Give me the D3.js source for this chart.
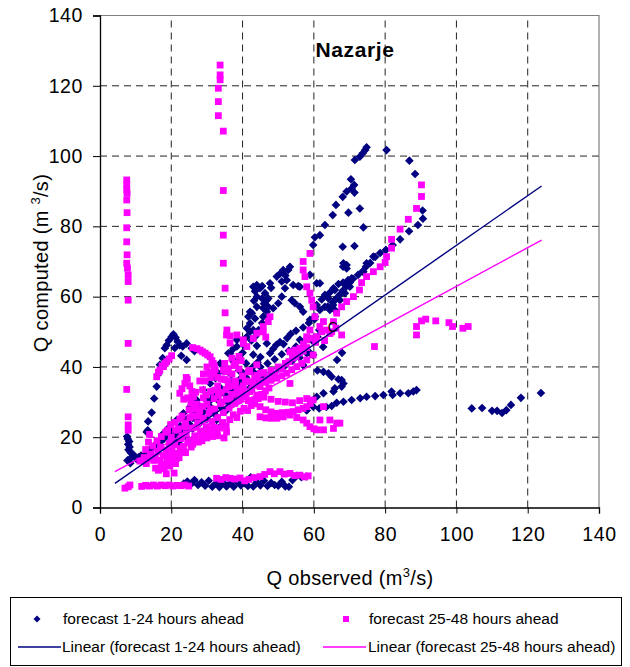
<!DOCTYPE html>
<html>
<head>
<meta charset="utf-8">
<script src="https://cdn.jsdelivr.net/npm/d3@7"></script>
<style>
  body { margin: 0; background: white; }
  text { font-family: "Liberation Sans", Arial, sans-serif; }
</style>
</head>
<body>
<div id="graph"></div>
<script>
// Nazarje - observed vs computed discharge
const xTicks = [0, 20, 40, 60, 80, 100, 120, 140];
const yTicks = [0, 20, 40, 60, 80, 100, 120, 140];
const seriesNames = ["forecast 1-24 hours ahead", "forecast 25-48 hours ahead"];

// [observed, computed]
const ahead1to24 = [
  // x=8 cluster
  [7.6,20.2],[7.8,19.5],[8.2,18.8],[7.9,18],[8.3,17.2],[8,16.4],[8.6,15.6],[9.2,15.2],[8.8,14.2],[9.6,14.6],
  [10.2,13.8],[10.8,14.3],[7.7,13.4],[8.5,12.6],[11.5,14.8],[12.6,13.5],[13.1,21.5],[13.4,22],
  // low band
  [23.5,6.8],[24.5,7.4],[25.5,6.6],[26.5,7.8],[27.5,6.4],[28.5,7.2],[29.5,6.2],[30.5,7.6],[31.5,5.9],[32.5,6.8],
  [33.5,5.8],[34.5,7.1],[35.5,6.0],[36.5,6.9],[37.5,5.9],[38.5,7.3],[39.5,6.3],[40.5,6.9],[41.5,6.1],[42.3,8.6],
  [43,6.0],[44,7.2],[45,6.3],[46,7.6],[47,6.1],[48,7.0],[49,6.4],[50,6.2],[51,7.3],[52,6.0],[53,5.9],[54,7.8],
  [55.2,9.0],[56.5,8.6],[58,8.8],
  // steep strand to the first peak
  [13.5,24.5],[14.5,27],[15.2,31],[15.9,34.4],[16.4,38],[16.8,40.6],[17.6,42.5],[18.2,45.3],[18.7,46.2],[19.3,47.5],
  [20.1,48.6],[20.6,49.3],[21.2,48.4],[21.8,47.2],[22.4,46.2],[23.2,45.8],[24.3,46.7],[25.7,45.3],[26.5,44.5],
  [24.3,42],[22.8,43.2],[21,45.4],
  // main diagonal
  [12.1,14.5],[13,15.4],[14,16.4],[15,17.2],[15.9,18.3],[17,18.7],[18,19.6],[18.7,20.4],[19.6,22.1],[20.5,21.5],
  [21.5,24.9],[22.5,23.2],[23.4,26.8],[24.2,25],[25.3,28.7],[26.2,27.1],[27.1,30.6],[28,28.8],[29,33.4],[29.8,30.5],
  [30.9,35.3],[31.6,32.2],[32.4,36.8],[33.2,38.2],[33.7,34.1],[34.6,40.1],[35.3,36.2],[36,43.9],[36.8,37.8],
  [37.4,45.2],[38.4,47.7],[38.4,34.4],[39.5,36.8],[40.2,38.2],[41.2,51],[42.1,39.1],[43,40.1],[43.5,53.8],
  [44.2,41.3],[45,42.8],[45.8,56.7],[46.8,59],[46.8,46.7],[47.7,43.9],[48.6,45.2],[49.5,46.3],[50.5,47.1],
  [51.5,46.5],[52.5,48.2],[53.5,49.4],[54.2,44.8],[55,50.3],[56.1,47.7],[57,51.2],[58,43.9],[58.6,52.5],
  [59.8,43.4],[60.2,53.6],[61,48.6],
  [32.7,24.9],[33.7,23],[35.5,27.7],[36.5,31.5],[33.7,41],[36.5,43.9],[38.4,45.8],[41.2,48.6],[42.1,50],
  [28,27],[30,29],[26,25.5],[24,22],[22,20.5],[20,19],[27,26.5],[31,30.5],[34,33],[37,35.5],[39,39],[41,41],
  [43,43.5],[44,46],[40,44],[39,42.5],[17.7,21],[19,22.4],[20.4,19.5],
  [58,44.8],[58.9,44],[62.6,45.7],[66.5,42],[67.9,44],[57,40.5],[59.5,47.5],[61.5,50.5],
  [21,20],[23,21.8],[25,23.8],[27,25],[29,27.2],[31,28.6],[33,30.6],[35,32.2],[37,33.2],[39,35.2],[41,37],
  [43,38.6],[45,40],[47,41],[49,42.2],[51,43.6],[53,44.6],[55,45.8],[22,18.5],[24,20.2],[26,22.4],[28,24],
  [30,25.2],[32,26.8],[34,28.4],[36,29.8],[38,31.2],[40,32.4],[42,34],[44,35.6],[46,37],[48,38.4],[50,39.6],
  [52,40.4],[54,41.8],[56,42.6],[35,39],[37.5,41.5],[40.5,46],[42.5,47.5],[44.5,50.5],[45.5,52.5],
  // upper cross
  [43,62.8],[44,63.3],[44.9,62.4],[46.3,61],[47.2,59.5],[47.2,57.1],[46.8,55.7],[45.8,54.3],[44,57.1],[42.6,55.3],
  [41.6,54.3],[42.1,52.4],[43,50.5],[43.5,48.6],[48.6,56.7],[50,58.1],[51,60],[51.9,62.4],[52.4,64.7],[52.8,67.6],
  [51,64.3],[53.8,59],[54.7,58.1],[56.1,57.1],[57,55.7],[55.6,63],[47.7,63.8],[49.6,65.7],[51.4,67.6],[53.3,68.5],
  [54.2,63.3],[56.1,62.8],[58.9,66.2],[61.7,63.8],[64.1,59.5],[65.9,61.9],[68.3,63.8],[69.2,69],[68.3,69.5],
  [58.9,53.4],[60.3,54.3],[60.8,57.6],[59.8,74.7],[60.3,76.9],[60.8,63.8],[42.1,55.7],[44,60],
  [43.5,61.5],[45.5,63],[45.5,59.5],[46,58],[43.2,58.8],[48,62.5],[50.5,66.5],[52,66],
  // high strand and loop
  [61.7,56.2],[62.2,59.2],[63.1,60.5],[64.5,61.2],[65.5,62.4],[66.9,63.6],[68.2,64],[69.6,64.7],[63.1,57.1],
  [64.5,56.2],[65.9,56.2],[65.4,57.6],[68.2,68.5],[69.2,68],[68.1,74.2],[71.4,74.4],[73.9,79.7],[72.9,85.1],
  [69.7,83.9],[65.3,83.2],[63.1,80.4],[61.7,77.5],[66.2,86.1],[68.1,88.4],[69.2,89.9],[70.6,90.8],[70.4,93.4],
  [71.3,91.8],[71.4,89.6],[71.5,98.9],[72.9,99.8],[73.7,100.8],[74.4,101.7],[74.8,102.5],[80.4,101.7],
  [86.8,98.7],[88.4,94.9],[90.5,84.5],[90.6,82.2],[89.2,80.4],[86.7,78.6],[84.2,76.3],[82.1,74.7],[80.2,73.3],
  [78.6,72.4],[77.2,71.3],[75.8,69.6],[74.6,68.5],[73.7,67.2],[72.4,66.2],[71,65.1],[70.1,64],[69.2,63],
  [68.2,61.8],[67.3,60.6],[66.2,59.4],[65.3,58.3],[63.9,57.2],[76.7,71.4],[74.8,69.5],[73.9,67.1],[70.6,65.2],
  [70.1,62.8],[68.7,61],[67.3,59],
  // ">" shape and the low right row
  [61,39],[62.7,38.6],[64.1,38.2],[65,37.2],[66.9,36.5],[67.8,36.3],[68.3,35.3],[67.8,34.4],[65.9,33.9],[65.5,33],
  [62.7,32.5],[60.8,31.5],[59.8,28.7],[58,27.6],[61.5,28.2],[63.5,28.6],[65,28.9],[66.4,29.8],[68.3,30.1],
  [70.6,30.6],[73,31.1],[74.8,31.5],[77.2,31.7],[79.5,32],[81.8,33],[82.1,32],[84.2,32.5],[86.5,32.5],
  [87.9,33],[88.8,33.4],
  // far right
  [104.3,28.2],[107.2,28.3],[110,27.5],[111.4,27.5],[112.8,26.9],[114,27.7],[115.3,29.2],[118.1,31.2],[123.7,32.6]
];

const ahead25to48 = [
  // x=8 column
  [7.5,93.2],[7.5,91.8],[7.5,90.4],[7.6,89.4],[7.5,87.5],[7.6,83.9],[7.5,79.6],[7.5,75.6],[7.6,71.9],[7.5,69.5],
  [7.7,68.1],[7.9,66.2],[7.9,64.3],[7.9,59],[7.9,46.7],[7.5,33.6],[7.9,25.8],[7.9,23.5],[7.9,22],[7.9,5.9],
  [7,5.5],[8.4,6.4],
  // x=34 column
  [33.7,125.9],[33.7,123.1],[33.7,121.7],[33.2,119.3],[33.2,115.5],[33.2,111.5],[34.6,107.1],[34.6,90.2],
  [34.6,77.5],[34.6,69.5],[35.1,62.4],[35.1,55.4],[35.6,50.5],
  // bottom bands
  [11.7,6.0],[12.8,6.3],[13.9,6.1],[15,6.4],[16.1,6.1],[17.2,6.4],[18.3,6.2],[19.4,6.4],[20.5,6.1],[21.6,6.3],
  [22.7,6.2],[23.8,6.4],[24.9,6.1],
  [32.7,8.3],[34,8.0],[35.3,8.5],[36.5,8.3],[37.8,8.1],[39.3,8.4],[40.6,7.6],[41.8,8.0],[43.2,8.5],[44.9,8.8],
  [46.2,9.4],[47.7,10.2],[48.9,9.6],[50.5,10.2],[51.7,9.5],[53.3,9.7],[54.6,9.1],[56.1,9.2],[57.4,8.7],[58.4,9.0],
  // upper left arcs
  [15.9,37.2],[16.4,38.5],[16.8,39.1],[17.4,40.3],[17.8,40.1],[18.3,41],[18.7,41.5],[19.4,42.3],[20.1,43.2],
  [27.2,45.2],[28.1,44.8],[28.8,44.3],[29.5,43.9],[30.2,43.4],[30.9,42.9],[31.4,41.8],[31.8,41],[32.1,40.1],
  [32.3,39.2],[26,45.5],
  [22.4,32.5],[23,33.8],[23.8,35.3],[24.5,36.5],[25.2,34.6],[25.8,33],[26.2,31.5],[24.6,31.2],[23.5,30.8],
  [25.5,29.8],[26.8,32.8],[24.2,37],
  // main cloud
  [11.2,13.2],[12.4,14.2],[12.8,16.5],[13.6,18.6],[13.9,20.8],[14.2,15.2],[15.1,13.4],[15.6,11.2],[16.4,10.6],
  [17.2,12.4],[18,11],[18.8,13.2],[19.6,11.8],[20.4,13.6],[21.2,12.5],[16.2,15.8],[17,17.2],[17.8,14.8],
  [18.6,16.4],[19.4,18.2],[20.2,16.2],[21,17.8],[21.8,15.4],[22.6,19.6],[23.4,17.4],[24.2,21],[25,19],
  [25.8,22.6],[26.6,20.4],[27.4,24],[28.2,21.8],[29,25.4],[29.8,23],[30.6,26.8],[31.4,24.4],[32.2,28],
  [33,25.6],[33.8,29.6],[34.6,27],[35.4,30.8],[36.2,28.4],[37,32.2],[37.8,29.6],[38.6,33.4],[39.4,31],
  [40.2,34.6],[41,32.2],[41.8,35.8],[42.6,33.6],[43.4,37],[44.2,34.8],[45,38.2],[19,22],[21,24.2],[23,26],
  [25,27.8],[27,29.4],[29,31.2],[31,33],[33,34.6],[35,36.4],[37,38],[39,39.4],[20,20],[22,22.4],[24,24],
  [26,26],[28,27.6],[30,29.4],[32,31],[34,32.8],[36,34.4],[38,36],[40,37.4],[42,39],[44,40.6],[23,20.4],
  [27,22.8],[31,21.6],[33,20.4],[34.8,19.8],[32,22.8],[35.5,21.5],[30,19.8],[28.6,19],[26,18],[24,15.6],
  [22.2,14.2],[20.8,9.8],[18.6,9.6],[35.2,38.6],[37.6,40.4],[39.6,41.8],[36.5,46.8],[36.5,48.8],[35.5,49.1],
  [40.2,46.7],[41.2,45.8],[43,48.1],[38.4,49.1],[40.2,47.7],[44,49.6],[45.8,51.5],[47.2,52.9],[47.7,54.3],
  [34.6,39.1],[45.8,50],[46.5,48.5],[29.5,36],[30.5,38.5],[28.8,33.5],
  [13,12.5],[14,13.8],[15.5,14.5],[16.8,13.5],[18.2,12.2],[19.2,14.6],[20.6,15],[21.5,14],[22.5,16.8],
  [23.6,15.8],[24.6,18.4],[25.6,17.2],[26.5,19.4],[27.6,18.6],[28.5,20.6],[29.6,21.4],[30.4,22.4],[31.6,20.2],
  [32.8,21.2],[33.6,22.6],[34.4,24.2],[35.4,23.2],[36.4,25],[37.4,26.4],[38.4,25.6],[39.4,27.4],[40.4,28.2],
  [41.4,27.6],[42.4,29],[43.4,30.4],[44.4,31],[45.4,32.2],[46.4,33.2],[47.4,34],
  [14.8,17.5],[16,19],[17.2,20.2],[18.4,21.4],[19.8,23.6],[21.2,22],[22.4,25.2],[23.8,23],[25.2,25.6],
  [26.4,28],[27.8,26],[28.8,28.8],[29.8,32],[31,28],[32.2,33.4],[33.2,31.8],[34.2,30],[35.4,33.6],[36.6,31],
  [37.6,34.6],[38.8,30.4],[39.8,33],[40.8,36],[41.6,38.6],[43,35.4],[44,37.6],[45,36],[46,38.4],[47,37],
  [48,39],[49,38],[50,40],[51,39.5],[52,41],[53,41.5],[54,42.5],[55,43],[56,44],[57,44.5],[58,45.5],
  [28,36],[29,38],[30,40],[31,37],[32,38],[33,37],[34,36.6],[36,39.5],[38,41],[39,43],[37,42.5],[35,41],
  // right of the cloud
  [44.9,34.4],[46.5,35.6],[48,36.2],[49.6,36.8],[51,37.5],[52.4,38.2],[53.8,39.2],[55.2,40.1],[56.6,41],
  [58,42],[59.8,43.4],[53.3,44.3],[54.7,44.8],[56.1,45.3],[57.1,46.5],[58,47.7],[59.4,48.2],[60.8,48.6],
  [62.2,50],[53.3,35.3],
  [38.4,32.5],[40,31.5],[41.6,30.4],[43.2,29.5],[44.9,28.7],[46.5,27.8],[48,27.2],[49.6,26.8],[51.2,27],
  [52.8,27.1],[54.2,27.3],[55.6,27.8],[57,28.2],[58,28.7],[59,29.6],[59.8,30.6],[44.9,25.8],[46.5,25.5],
  [48,25.4],[49.6,25.4],[51.4,25.8],[53.3,26.3],[55.2,25.6],[57,24.9],[58,24],[58.9,23],[60,22.4],[60.8,22.1],
  [62.7,28.7],[61.7,24.9],[64.5,24.9],[66.4,24],[65.5,22.5],[62.7,22.1],[67.3,24],
  [40,34],[42,33],[44,32],[46,31.4],[48,30.8],[50,30.2],[52,30],[54,29.8],[56,30.4],[58,31],[38,35],[36,36],
  // strand under the high loop
  [58.9,72.3],[57,70],[57,67.6],[57.5,65.7],[58,62.8],[58.9,61],[59.4,59],[59.8,57.1],[60.3,54.3],[58.9,50.5],
  [58,48.6],
  [61.7,51.5],[62.7,52.9],[63.6,50.5],[64.5,49.5],[65.5,52.9],[66.4,55.3],[67.8,57.1],[69.2,58.6],[71.1,60],
  [72.8,61.9],[73.4,64],[74.8,65.7],[76.7,67.1],[78.6,68.5],[80,69.7],[80.4,71.4],[81.8,73.8],[81.8,76.3],
  [84.2,79.2],[86.5,82],[88.8,85.1],[90.2,88.5],[90.2,91.8],[67.8,49.1],[65,50],[66.2,51],[60.5,47],[63,47.5],
  // right group
  [88.8,51.5],[88.8,49.1],[90.2,53.1],[91.4,53.6],[94.2,53.1],[97.9,52.6],[98.9,51.5],[101.8,51],[103.3,51.5],
  [77,45.8]
];

// linear trendlines (Excel)
const trendSlope = [0.707, 0.5505];
const trendIntercept = [3.9, 7.9];
const trendRange = [4.2, 123.9];

const colors = ["#000080", "#ff00ff"];

const width = 630, height = 667;
const svg = d3.select("#graph").append("svg")
  .attr("width", width)
  .attr("height", height);

const x = d3.scaleLinear().domain([0, 140]).range([100, 599]);
const y = d3.scaleLinear().domain([0, 140]).range([507.5, 15.5]);

// grid
svg.append("g").selectAll("line")
  .data(yTicks.slice(1, -1))
  .enter().append("line")
  .attr("x1", x(0)).attr("x2", x(140))
  .attr("y1", d => y(d)).attr("y2", d => y(d))
  .attr("stroke", "#222").attr("stroke-dasharray", "7,5");
svg.append("g").selectAll("line")
  .data(xTicks.slice(1, -1))
  .enter().append("line")
  .attr("y1", y(0)).attr("y2", y(140))
  .attr("x1", d => x(d)).attr("x2", d => x(d))
  .attr("stroke", "#222").attr("stroke-dasharray", "7,5");

// top + right border
svg.append("path")
  .attr("d", `M${x(0)},${y(140)}H${x(140)}V${y(0)}`)
  .attr("fill", "none").attr("stroke", "#808080").attr("stroke-width", 1.2);

// axes
const xAxis = svg.append("g")
  .attr("transform", `translate(0,${y(0)})`)
  .call(d3.axisBottom(x).tickValues(xTicks).tickSize(6).tickPadding(14));
const yAxis = svg.append("g")
  .attr("transform", `translate(${x(0)},0)`)
  .call(d3.axisLeft(y).tickValues(yTicks).tickSize(7).tickPadding(10));
[xAxis, yAxis].forEach(a => {
  a.select(".domain").attr("stroke", "#000").attr("stroke-width", 1.3);
  a.selectAll(".tick line").attr("stroke", "#000");
  a.selectAll(".tick text")
    .attr("font-size", 19.5)
    .attr("letter-spacing", 0.6)
    .attr("font-family", "Liberation Sans, Arial, sans-serif")
    .attr("fill", "#000");
});

// markers
const diamond = (s) => `M0,${-s}L${s},0L0,${s}L${-s},0Z`;

svg.append("g").selectAll("path")
  .data(ahead1to24)
  .enter().append("path")
  .attr("d", diamond(4.3))
  .attr("transform", d => `translate(${x(d[0])},${y(d[1])})`)
  .attr("fill", colors[0]);

svg.append("g").selectAll("rect")
  .data(ahead25to48)
  .enter().append("rect")
  .attr("x", d => x(d[0]) - 3.4)
  .attr("y", d => y(d[1]) - 3.4)
  .attr("width", 6.8).attr("height", 6.8)
  .attr("fill", colors[1]);

// trendlines
[0, 1].forEach(i => {
  svg.append("line")
    .attr("x1", x(trendRange[0]))
    .attr("y1", y(trendSlope[i] * trendRange[0] + trendIntercept[i]))
    .attr("x2", x(trendRange[1]))
    .attr("y2", y(trendSlope[i] * trendRange[1] + trendIntercept[i]))
    .attr("stroke", colors[i]).attr("stroke-width", 1.4);
});

// stray label near the lines
svg.append("text")
  .attr("x", x(65.3)).attr("y", y(51.3) + 5)
  .attr("text-anchor", "middle").attr("font-size", 14)
  .text("C");

// title
svg.append("text")
  .attr("x", 355).attr("y", 57)
  .attr("text-anchor", "middle")
  .attr("font-size", 21).attr("font-weight", "bold")
  .attr("letter-spacing", 0.6)
  .text("Nazarje");

// axis titles
const xt = svg.append("text")
  .attr("x", 350).attr("y", 585)
  .attr("text-anchor", "middle").attr("font-size", 20)
  .attr("letter-spacing", 0.3);
xt.append("tspan").text("Q observed (m");
xt.append("tspan").attr("font-size", 13).attr("dy", -8).text("3");
xt.append("tspan").attr("dy", 8).text("/s)");

const yt = svg.append("text")
  .attr("transform", `translate(48,263) rotate(-90)`)
  .attr("text-anchor", "middle").attr("font-size", 20)
  .attr("letter-spacing", 0.3);
yt.append("tspan").text("Q computed (m ");
yt.append("tspan").attr("font-size", 13).attr("dy", -8).text("3");
yt.append("tspan").attr("dy", 8).text("/s)");

// legend
const lg = svg.append("g");
lg.append("rect")
  .attr("x", 10.5).attr("y", 597.5).attr("width", 611).attr("height", 68)
  .attr("fill", "white").attr("stroke", "#000");
lg.append("path").attr("d", diamond(3.5))
  .attr("transform", "translate(37,619)").attr("fill", colors[0]);
lg.append("rect").attr("x", 343).attr("y", 616).attr("width", 6).attr("height", 6)
  .attr("fill", colors[1]);
lg.append("line").attr("x1", 18).attr("x2", 61).attr("y1", 647).attr("y2", 647)
  .attr("stroke", colors[0]).attr("stroke-width", 1.4);
lg.append("line").attr("x1", 323).attr("x2", 366).attr("y1", 647).attr("y2", 647)
  .attr("stroke", colors[1]).attr("stroke-width", 1.4);
const legendText = [
  [63, 624, seriesNames[0]],
  [369, 624, seriesNames[1]],
  [62, 652, "Linear (" + seriesNames[0] + ")"],
  [368, 652, "Linear (" + seriesNames[1] + ")"]
];
lg.selectAll("text.lt")
  .data(legendText)
  .enter().append("text")
  .attr("class", "lt")
  .attr("x", d => d[0]).attr("y", d => d[1])
  .attr("font-size", 15.5)
  .text(d => d[2]);
</script>
</body>
</html>
